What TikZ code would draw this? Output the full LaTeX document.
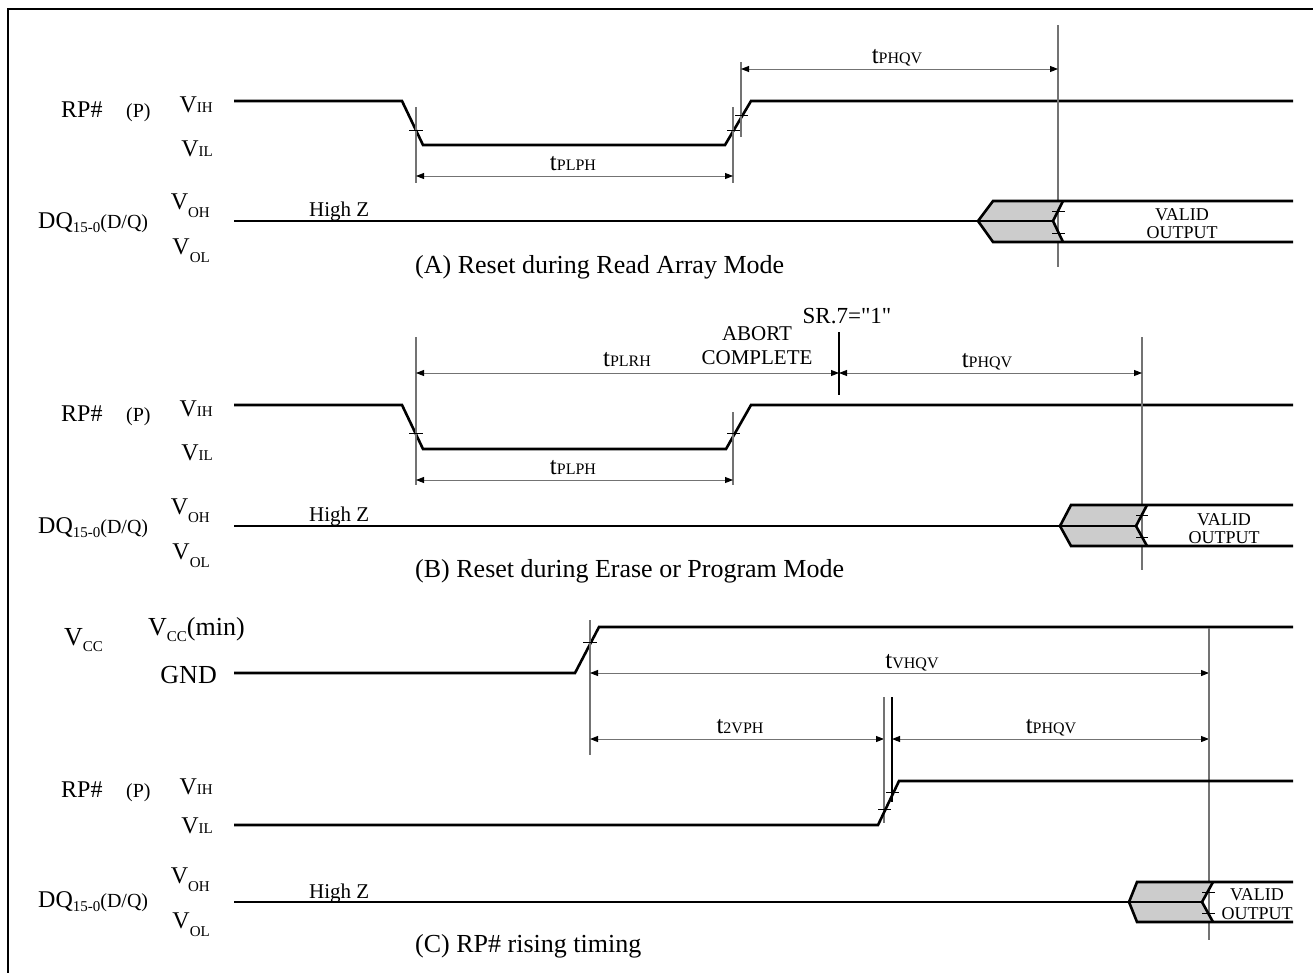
\documentclass[tikz,border=0pt]{standalone}
\usepackage{fontspec}
\setmainfont{Liberation Serif}
\newfontfamily\srfont{Liberation Serif}[Ligatures=TeXOff]
\usetikzlibrary{arrows.meta}
\newcommand\smtx[1]{{\fontsize{15}{15}\selectfont #1}}
\newcommand\tlab[1]{{\fontsize{25}{25}\selectfont t}{\fontsize{16}{16}\selectfont #1}}
\begin{document}
\begin{tikzpicture}[x=1pt,y=-1pt,
  sig/.style={line width=2.6pt},
  vl/.style={line width=1.1pt,draw=black!55},
  vlk/.style={line width=1.1pt,draw=black},
  tk/.style={line width=0.9pt,draw=black},
  dim/.style={line width=0.9pt,draw=black!55,{Triangle[length=8pt,width=6pt,color=black]}-{Triangle[length=8pt,width=6pt,color=black]}},
  lb/.style={inner sep=0pt,font=\fontsize{24}{24}\selectfont},
  lbs/.style={inner sep=0pt,font=\fontsize{20}{20}\selectfont},
  lbc/.style={inner sep=0pt,font=\fontsize{26}{26}\selectfont},
  captxt/.style={inner sep=0pt,font=\fontsize{26}{26}\selectfont,anchor=base west},
  hz/.style={inner sep=0pt,font=\fontsize{21}{21}\selectfont,anchor=base west},
  vo/.style={inner sep=0pt,font=\fontsize{18}{18}\selectfont,anchor=base},
  tl/.style={inner sep=0pt,anchor=base},
  ab/.style={inner sep=0pt,font=\fontsize{21}{21}\selectfont,anchor=base}
]
\useasboundingbox (0,0) rectangle (1313,972);
\clip (0,0) rectangle (1313,972);
\fill[white] (0,0) rectangle (1313,972);
\draw[line width=2pt] (1330,9) -- (8,9) -- (8,990);

% ================= (A) =================
\node[lb,anchor=base west] (aRP) at (61,117) {RP\#};
\node[lbs,anchor=base west] (aP) at (126,117) {(P)};
\node[lb,anchor=base east] (aVIH) at (213,112) {V\smtx{IH}};
\node[lb,anchor=base east] (aVIL) at (213,156) {V\smtx{IL}};
\node[lb,anchor=base east] (aVOH) at (210,209) {V\raisebox{-8pt}{\smtx{OH}}};
\node[lb,anchor=base east] (aVOL) at (210,254) {V\raisebox{-8pt}{\smtx{OL}}};
\node[lb,anchor=base west] (aDQ) at (38,228) {DQ\raisebox{-4pt}{\smtx{15-0}}\fontsize{20}{20}\selectfont(D/Q)};
\node[hz] (aHZ) at (309,216) {High Z};
\node[captxt] (aCap) at (415,273) {(A) Reset during Read Array Mode};

\draw[sig] (234,101) -- (402,101) -- (423,145) -- (725,145) -- (751,101) -- (1293,101);
\coordinate (aF) at (416,176);
\coordinate (aR) at (733,176);
\coordinate (aR2) at (741,69);
\coordinate (aV) at (1058,69);
\draw[vl] (416,107) -- (416,183);
\draw[vl] (733,107) -- (733,183);
\draw[vl] (741,62) -- (741,137);
\draw[vl] (1058,25) -- (1058,267);
\draw[tk] (409,130) -- (423,130);
\draw[tk] (727,130) -- (740,130);
\draw[tk] (735,115) -- (748,115);
\draw[dim] (aF) -- (aR);
\draw[dim] (aR2) -- (aV);
\node[tl] (aPLPH) at (573,170) {\tlab{PLPH}};
\node[tl] (aPHQV) at (897,63) {\tlab{PHQV}};

\draw[sig] (234,221) -- (978,221);
\fill[black!20] (978,221) -- (993,201) -- (1063,201) -- (1053,221) -- (1063,242) -- (993,242) -- cycle;
\draw[sig] (1293,201) -- (993,201) -- (978,221) -- (993,242) -- (1293,242);
\draw[sig] (978,221) -- (1053,221);
\draw[sig] (1063,201) -- (1053,221) -- (1063,242);
\draw[tk] (1052,211) -- (1065,211);
\draw[tk] (1052,233) -- (1065,233);
\node[vo] (aVal) at (1182,220) {VALID};
\node[vo] (aOut) at (1182,238) {OUTPUT};

% ================= (B) =================
\node[lb,anchor=base west] (bRP) at (61,421) {RP\#};
\node[lbs,anchor=base west] (bP) at (126,421) {(P)};
\node[lb,anchor=base east] (bVIH) at (213,416) {V\smtx{IH}};
\node[lb,anchor=base east] (bVIL) at (213,460) {V\smtx{IL}};
\node[lb,anchor=base east] (bVOH) at (210,514) {V\raisebox{-8pt}{\smtx{OH}}};
\node[lb,anchor=base east] (bVOL) at (210,559) {V\raisebox{-8pt}{\smtx{OL}}};
\node[lb,anchor=base west] (bDQ) at (38,533) {DQ\raisebox{-4pt}{\smtx{15-0}}\fontsize{20}{20}\selectfont(D/Q)};
\node[hz] (bHZ) at (309,521) {High Z};
\node[captxt] (bCap) at (415,577) {(B) Reset during Erase or Program Mode};

\draw[sig] (234,405) -- (402,405) -- (423,449) -- (726,449) -- (751,405) -- (1293,405);
\coordinate (bF) at (416,480);
\coordinate (bR) at (733,480);
\coordinate (bF2) at (416,373);
\coordinate (bS) at (839,373);
\coordinate (bV) at (1142,373);
\draw[vl] (416,337) -- (416,485);
\draw[vl] (733,412) -- (733,485);
\draw[vlk] (839,332) -- (839,395);
\draw[vl] (1142,337) -- (1142,570);
\draw[tk] (409,433) -- (423,433);
\draw[tk] (727,433) -- (740,433);
\draw[dim] (bF) -- (bR);
\draw[dim] (bF2) -- (bS);
\draw[dim] (bS) -- (bV);
\node[tl] (bPLPH) at (573,474) {\tlab{PLPH}};
\node[tl] (bPLRH) at (627,366) {\tlab{PLRH}};
\node[tl] (bPHQV) at (987,367) {\tlab{PHQV}};
\node[ab] (bAb) at (757,340) {ABORT};
\node[ab] (bCo) at (757,364) {COMPLETE};
\node[inner sep=0pt,anchor=base,font=\srfont\fontsize{23}{23}\selectfont] (bSR) at (847,323) {SR.7="1"};

\draw[sig] (234,526) -- (1060,526);
\fill[black!20] (1060,526) -- (1071,505) -- (1147,505) -- (1136,526) -- (1147,546) -- (1071,546) -- cycle;
\draw[sig] (1293,505) -- (1071,505) -- (1060,526) -- (1071,546) -- (1293,546);
\draw[sig] (1060,526) -- (1136,526);
\draw[sig] (1147,505) -- (1136,526) -- (1147,546);
\draw[tk] (1136,515) -- (1148,515);
\draw[tk] (1136,537) -- (1148,537);
\node[vo] (bVal) at (1224,525) {VALID};
\node[vo] (bOut) at (1224,543) {OUTPUT};

% ================= (C) =================
\node[lbc,anchor=base west] (cVCC) at (64,645) {V\raisebox{-6pt}{\smtx{CC}}};
\node[lbc,anchor=base west] (cVmin) at (148,635) {V\raisebox{-6pt}{\smtx{CC}}(min)};
\node[lbc,anchor=base east] (cGND) at (217,683) {GND};
\node[lb,anchor=base west] (cRP) at (61,797) {RP\#};
\node[lbs,anchor=base west] (cP) at (126,797) {(P)};
\node[lb,anchor=base east] (cVIH) at (213,794) {V\smtx{IH}};
\node[lb,anchor=base east] (cVIL) at (213,833) {V\smtx{IL}};
\node[lb,anchor=base east] (cVOH) at (210,883) {V\raisebox{-8pt}{\smtx{OH}}};
\node[lb,anchor=base east] (cVOL) at (210,928) {V\raisebox{-8pt}{\smtx{OL}}};
\node[lb,anchor=base west] (cDQ) at (38,907) {DQ\raisebox{-4pt}{\smtx{15-0}}\fontsize{20}{20}\selectfont(D/Q)};
\node[hz] (cHZ) at (309,898) {High Z};
\node[captxt] (cCap) at (415,952) {(C) RP\# rising timing};

\draw[sig] (234,673) -- (575,673) -- (599,627) -- (1293,627);
\draw[vl] (590,620) -- (590,755);
\draw[tk] (583,642) -- (597,642);
\coordinate (cA1) at (590,673);
\coordinate (cV1) at (1209,673);
\coordinate (cA2) at (590,739);
\coordinate (cB2) at (884,739);
\coordinate (cC2) at (892,739);
\coordinate (cV2) at (1209,739);
\draw[dim] (cA1) -- (cV1);
\draw[dim] (cA2) -- (cB2);
\draw[dim] (cC2) -- (cV2);
\node[tl] (cVHQV) at (912,668) {\tlab{VHQV}};
\node[tl] (c2VPH) at (740,733) {\tlab{2VPH}};
\node[tl] (cPHQV) at (1051,733) {\tlab{PHQV}};
\draw[vl] (884,697) -- (884,823);
\draw[vlk] (892,697) -- (892,802);
\draw[vl] (1209,628) -- (1209,940);

\draw[sig] (234,825) -- (878,825) -- (899,781) -- (1293,781);
\draw[tk] (878,809) -- (891,809);
\draw[tk] (886,792) -- (899,792);

\draw[sig] (234,902) -- (1129,902);
\fill[black!20] (1129,902) -- (1137,882) -- (1213,882) -- (1202,902) -- (1213,922) -- (1137,922) -- cycle;
\draw[sig] (1293,882) -- (1137,882) -- (1129,902) -- (1137,922) -- (1293,922);
\draw[sig] (1129,902) -- (1202,902);
\draw[sig] (1213,882) -- (1202,902) -- (1213,922);
\draw[tk] (1202,892) -- (1215,892);
\draw[tk] (1202,913) -- (1215,913);
\node[vo] (cVal) at (1257,900) {VALID};
\node[vo] (cOut) at (1257,919) {OUTPUT};
\end{tikzpicture}
\end{document}
